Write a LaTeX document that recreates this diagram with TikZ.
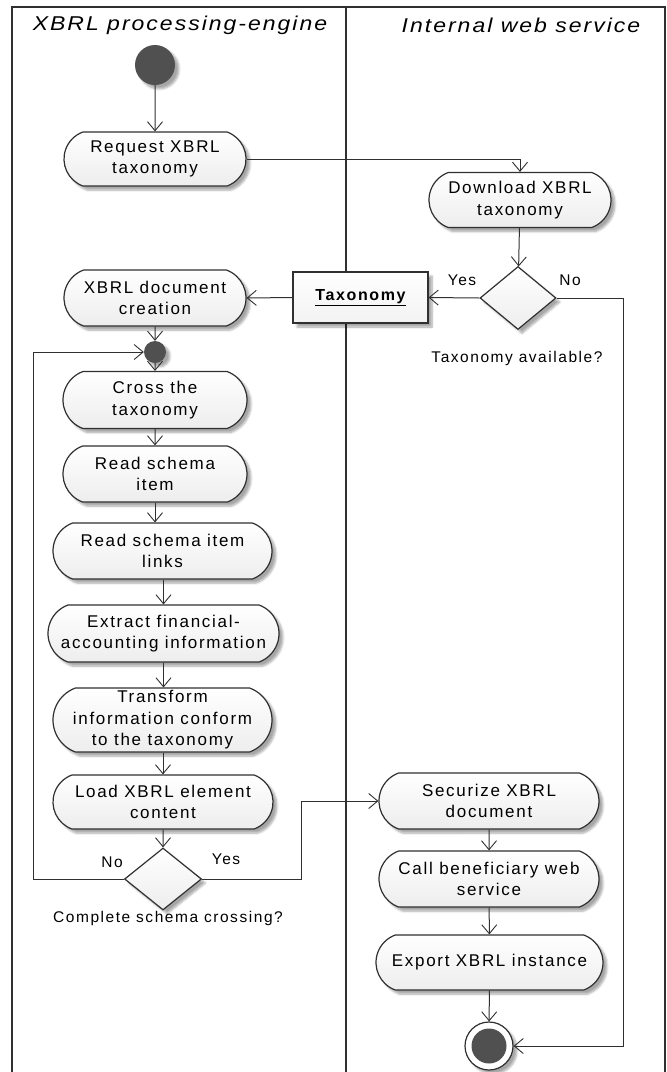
\documentclass[tikz,border=0pt]{standalone}
\usepackage{fontspec}
\setmainfont{Liberation Sans}
\newfontfamily\ndfont[LetterSpace=10]{Liberation Sans}
\newfontfamily\hdfont[LetterSpace=10,FakeStretch=1.15]{Liberation Sans}
\usetikzlibrary{arrows.meta,shapes.geometric,shapes.misc,shadows.blur,calc}
\definecolor{ln}{HTML}{303030}
\definecolor{dk}{HTML}{505050}
\tikzset{
  arr/.style={draw=ln, line width=1pt, -{Straight Barb[length=9pt,width=15pt,line width=0.9pt]}},
  shd/.style={blur shadow={shadow xshift=4pt, shadow yshift=-4pt, shadow opacity=35, shadow blur steps=6}},
  act/.style={rounded rectangle, rounded rectangle arc length=140, draw=ln, line width=1.2pt,
    top color=white, bottom color=gray!14,
    align=center, font=\ndfont\fontsize{17}{21.5}\selectfont, inner sep=0pt, shd},
  dec/.style={diamond, draw=ln, line width=1.2pt, top color=white, bottom color=gray!14, inner sep=0pt, shd},
  lbl/.style={font=\ndfont\fontsize{15.5}{18}\selectfont, inner sep=0pt},
  hdr/.style={font=\hdfont\itshape\fontsize{20}{24}\selectfont, inner sep=0pt},
  dot/.style={circle, fill=dk, inner sep=0pt, shd},
}
\begin{document}
\begin{tikzpicture}[x=1pt,y=-1pt]
\useasboundingbox (0,0) rectangle (667,1072);
% frame and lane divider
\draw[ln, line width=1.2pt] (12,1080) -- (12,7) -- (665,7) -- (665,1080);
\draw[ln, line width=1.2pt] (346,7) -- (346,1080);
% headers
\node[hdr] (h1) at (180,25) {XBRL processing-engine};
\node[hdr] (h2) at (521,25) {Internal web service};
% nodes
\node[dot, minimum size=40pt] (start) at (155,65) {};
\node[act, minimum width=182pt, minimum height=54pt] (req) at (155,159) {Request XBRL\\taxonomy};
\node[act, minimum width=182pt, minimum height=55pt] (dl) at (520,200) {Download XBRL\\taxonomy};
\node[dec, minimum width=76pt, minimum height=63pt] (d1) at (518,298) {};
\node[draw=ln, line width=1.2pt, top color=white, bottom color=gray!10, minimum width=135pt, minimum height=51pt, inner sep=0pt, shd,
      font=\ndfont\bfseries\fontsize{16}{20}\selectfont] (tax) at (360.5,297.5) {\underline{Taxonomy}};
\node[act, minimum width=182pt, minimum height=56pt] (doc) at (155,298) {XBRL document\\creation};
\node[dot, minimum size=22pt] (merge) at (155,352) {};
\node[act, minimum width=184pt, minimum height=57pt] (cross) at (155,400) {Cross the\\taxonomy};
\node[act, minimum width=184pt, minimum height=56pt] (rsi) at (155,474) {Read schema\\item};
\node[act, minimum width=219pt, minimum height=56pt] (rsil) at (162.5,551) {Read schema item\\links};
\node[act, minimum width=231pt, minimum height=57pt] (ext) at (163.5,633.5) {Extract financial-\\accounting information};
\node[act, minimum width=219pt, minimum height=64pt] (trans) at (162.5,720) {Transform\\information conform\\to the taxonomy};
\node[act, minimum width=220pt, minimum height=54pt] (load) at (163,802) {Load XBRL element\\content};
\node[dec, minimum width=77pt, minimum height=62pt] (d2) at (163,879) {};
\node[act, minimum width=220pt, minimum height=56pt] (sec) at (489,801) {Securize XBRL\\document};
\node[act, minimum width=220pt, minimum height=56pt] (call) at (489,879) {Call beneficiary web\\service};
\node[act, minimum width=227pt, minimum height=55pt] (exp) at (489.5,962.5) {Export XBRL instance};
\node[circle, draw=ln, line width=1.2pt, fill=white, minimum size=48pt, inner sep=0pt, shd] (endo) at (489,1046) {};
\node[circle, fill=dk, minimum size=35pt, inner sep=0pt] (endi) at (489,1046) {};
% labels
\node[lbl] (yes1) at (462,280) {Yes};
\node[lbl] (no1) at (570,280) {No};
\node[lbl] (q1) at (517,358) {Taxonomy available?};
\node[lbl] (no2) at (112,862) {No};
\node[lbl] (yes2) at (226,859) {Yes};
\node[lbl] (q2) at (168,918) {Complete schema crossing?};
% connectors
\coordinate (nocorner) at (623,298);
\coordinate (loopc) at (33,879);
\coordinate (yesc) at (301,879);
\draw[arr] (start) -- (req);
\draw[arr] (req.east) -| (dl.north);
\draw[arr] (dl) -- (d1);
\draw[arr] (d1.west) -- (tax.east);
\draw[arr] (tax.west) -- (doc.east);
\draw[arr] (d1.east) -- (nocorner) |- (endo.east);
\draw[arr] (doc) -- (merge);
\draw[arr] (merge) -- (cross);
\draw[arr] (cross) -- (rsi);
\draw[arr] (rsi.south) -- (rsi.south |- rsil.north);
\draw[arr] (rsil.south -| ext.north) -- (ext.north);
\draw[arr] (ext.south) -- (ext.south |- trans.north);
\draw[arr] (trans.south -| load.north) -- (load.north);
\draw[arr] (load) -- (d2);
\draw[arr] (d2.west) -- (loopc) |- (merge.west);
\draw[arr] (d2.east) -- (yesc) |- (sec.west);
\draw[arr] (sec) -- (call);
\draw[arr] (call) -- (exp);
\draw[arr] (exp) -- (endo);
\end{tikzpicture}
\end{document}
